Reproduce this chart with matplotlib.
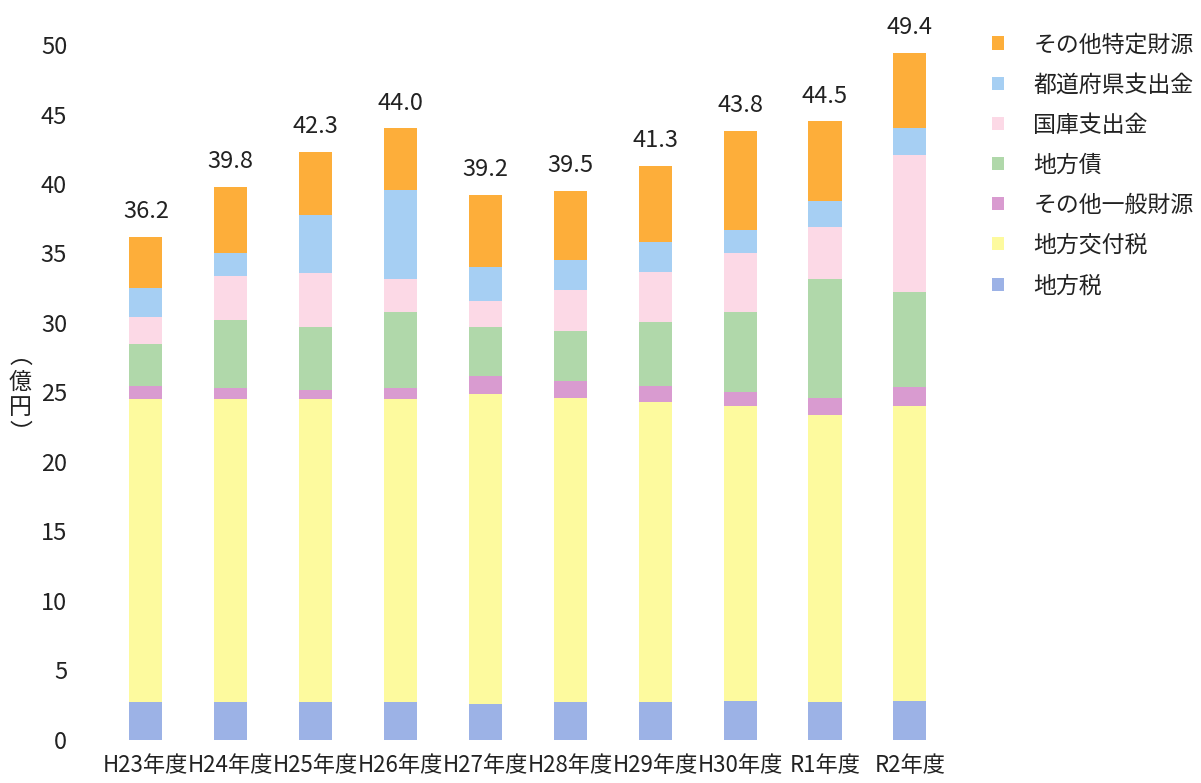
import matplotlib
matplotlib.use('Agg')
import matplotlib.pyplot as plt
import numpy as np

plt.rcParams['font.family'] = ['Noto Sans CJK JP', 'DejaVu Sans']

years = ["H23年度", "H24年度", "H25年度", "H26年度", "H27年度",
         "H28年度", "H29年度", "H30年度", "R1年度", "R2年度"]

# 億円, bottom to top
chihouzei = [2.7, 2.7, 2.7, 2.7, 2.6, 2.7, 2.7, 2.8, 2.7, 2.8]
koufuzei = [21.8, 21.8, 21.8, 21.8, 22.3, 21.9, 21.6, 21.2, 20.7, 21.2]
sonota_ippan = [1.0, 0.8, 0.7, 0.8, 1.3, 1.2, 1.2, 1.0, 1.2, 1.4]
chihousai = [3.0, 4.9, 4.5, 5.5, 3.5, 3.6, 4.6, 5.8, 8.6, 6.8]
kokko = [1.9, 3.2, 3.9, 2.4, 1.9, 3.0, 3.6, 4.2, 3.7, 9.9]
todoufuken = [2.1, 1.6, 4.2, 6.4, 2.4, 2.1, 2.1, 1.7, 1.9, 1.9]
sonota_tokutei = [3.7, 4.8, 4.5, 4.4, 5.2, 5.0, 5.5, 7.1, 5.7, 5.4]
totals = [36.2, 39.8, 42.3, 44.0, 39.2, 39.5, 41.3, 43.8, 44.5, 49.4]

series = [
    ("地方税", chihouzei, "#9cb2e6"),
    ("地方交付税", koufuzei, "#fdfa9e"),
    ("その他一般財源", sonota_ippan, "#d99bd0"),
    ("地方債", chihousai, "#b0d8aa"),
    ("国庫支出金", kokko, "#fcd9e6"),
    ("都道府県支出金", todoufuken, "#a6cff3"),
    ("その他特定財源", sonota_tokutei, "#fdae3a"),
]

fig = plt.figure(figsize=(12.01, 7.83), dpi=100)
ax = fig.add_axes([0.079, 0.055, 0.721, 0.8875])

x = np.arange(len(years))
bottom = np.zeros(len(years))
handles = []
for name, vals, color in series:
    b = ax.bar(x, vals, width=0.39, bottom=bottom, color=color, label=name, linewidth=0)
    handles.append(b)
    bottom += np.array(vals)

for xi, t in zip(x, totals):
    ax.annotate(f'{t:.1f}', xy=(xi, bottom[xi]), xytext=(0, 10),
                textcoords="offset points", ha='center', va='bottom',
                fontsize=17, color='#222222', annotation_clip=False)

ax.set_xlim(-0.6, 9.6)
ax.set_ylim(0, 50)
ax.set_yticks(range(0, 51, 5))
ax.set_xticks(x)
ax.set_xticklabels(years, fontsize=16)
ax.tick_params(axis='y', labelsize=17, length=0, pad=20, labelcolor='#222222')
ax.tick_params(axis='x', length=0, pad=10, labelcolor='#222222')
for s in ax.spines.values():
    s.set_visible(False)

fig.text(0.017, 0.4955, "︵\n億\n円\n︶", fontsize=16.5, ha='center', va='center',
         linespacing=1.15, color='#222222')

leg = fig.legend(handles[::-1], [s[0] for s in series][::-1],
                 loc='upper left', bbox_to_anchor=(0.809, 0.984),
                 frameon=False, fontsize=16.5, handlelength=0.5, handleheight=0.5,
                 handletextpad=1.3, labelspacing=0.75)
for t in leg.get_texts():
    t.set_color('#222222')

fig.savefig("out.png", dpi=100, facecolor='white')
